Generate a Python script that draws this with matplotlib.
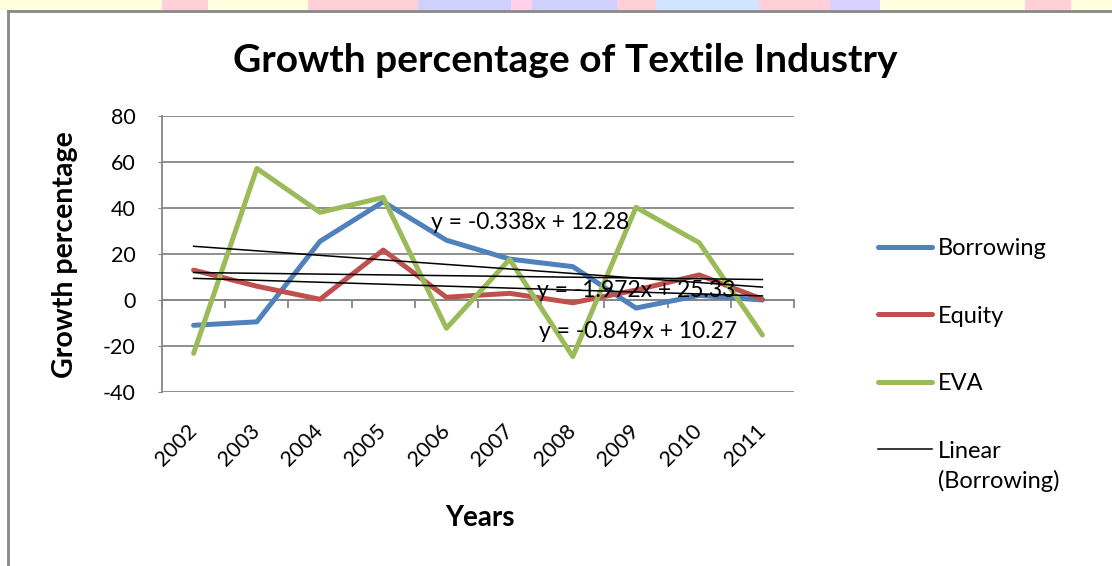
import numpy as np
import matplotlib
matplotlib.use('Agg')
import matplotlib.pyplot as plt
from matplotlib.patches import Rectangle
from matplotlib.lines import Line2D

plt.rcParams['font.family'] = ['Lato', 'DejaVu Sans']
plt.rcParams['axes.unicode_minus'] = False

years = ['2002', '2003', '2004', '2005', '2006', '2007', '2008', '2009', '2010', '2011']
borrowing = [-11, -9.5, 25.5, 42.7, 26, 17.8, 14.5, -3.5, 2, 0]
equity = [13, 6, 0.3, 21.7, 1.2, 2.9, -1.2, 4.3, 10.9, 0.3]
eva = [-23.2, 57.2, 38.1, 44.6, -12.3, 17.7, -24.6, 40.3, 24.9, -15.2]

# linear trend coefficients (slope, intercept), x = 1..n
trend_slopes = [-0.338, -0.849, -1.972]
trend_intercepts = [12.28, 10.27, 25.33]

BLUE = '#4F81BD'
RED = '#C0504D'
GREEN = '#9BBB59'
GRID = '#868686'

fig = plt.figure(figsize=(11.12, 5.66), dpi=100)
W, H = 1112, 566

# pastel strip along the top edge
strip = [(0, 162, '#FFFFE0'), (162, 208, '#FFD0D8'), (208, 308, '#FFFFE0'),
         (308, 418, '#FFD0D8'), (418, 511, '#D0D0FF'), (511, 532, '#FFD0E8'),
         (532, 617, '#D0D0FF'), (617, 656, '#FFD0D8'), (656, 759, '#D0E4FF'),
         (759, 830, '#FFD0D8'), (830, 880, '#D8D0FF'), (880, 1025, '#FFFFE0'),
         (1025, 1071, '#FFD0D8'), (1071, 1112, '#FFFFE0')]
for x0, x1, c in strip:
    fig.add_artist(Rectangle((x0 / W, 1 - 10 / H), (x1 - x0) / W, 10 / H,
                             transform=fig.transFigure, color=c, lw=0))
# chart frame
fig.add_artist(Line2D([8 / W, 1], [1 - 11 / H, 1 - 11 / H], transform=fig.transFigure,
                      color='#888888', lw=2))
fig.add_artist(Line2D([8 / W, 8 / W], [0, 1 - 11 / H], transform=fig.transFigure,
                      color='#888888', lw=2))

ax = fig.add_axes([162 / W, 1 - 392 / H, (794 - 162) / W, (392 - 116) / H])
x = np.arange(len(years))

ax.set_ylim(-40, 80)
ax.set_xlim(-0.5, len(years) - 0.5)
ax.set_yticks(range(-40, 81, 20))
ax.yaxis.grid(True, color=GRID, lw=1.3)
ax.set_axisbelow(True)
for s in ['top', 'right', 'bottom']:
    ax.spines[s].set_visible(False)
ax.spines['left'].set_color(GRID)
ax.spines['left'].set_linewidth(1.3)
ax.tick_params(axis='y', length=3, color=GRID, labelsize=15.5, pad=16)

ax.set_xticks(x)
ax.set_xticklabels(years, rotation=45, ha='right', rotation_mode='anchor', va='center')
ax.tick_params(axis='x', length=0, labelsize=15.5, pad=26)

# category axis crossing at zero, with tick marks between categories
sec = ax.secondary_xaxis(40 / 120)
sec.set_xticks(np.arange(len(years) + 1) - 0.5)
sec.set_xticklabels([])
sec.tick_params(axis='x', length=6, color=GRID, width=1.3, direction='out')
sec.spines['bottom'].set_color(GRID)
sec.spines['bottom'].set_linewidth(1.3)

lw = 3.6
ax.plot(x, borrowing, color=BLUE, lw=lw, solid_capstyle='round', label='Borrowing')
ax.plot(x, equity, color=RED, lw=lw, solid_capstyle='round', label='Equity')
ax.plot(x, eva, color=GREEN, lw=lw, solid_capstyle='round', label='EVA')

xi = x + 1
for k, (m, b) in enumerate(zip(trend_slopes, trend_intercepts)):
    ax.plot(x, m * xi + b, color='black', lw=1.1,
            label='Linear' if k == 0 else '_nolegend_')

eq_pos = [(5.32, 33.9), (7.03, -13.5), (7.0, 4.3)]
for (m, b), (px, py) in zip(zip(trend_slopes, trend_intercepts), eq_pos):
    ax.text(px, py, f'y = {m:.3f}x + {b:.2f}', ha='center', va='center', fontsize=16.5)

fig.text(565 / W, 1 - 60 / H, 'Growth percentage of Textile Industry',
         ha='center', va='center', fontsize=28, fontweight='bold')
fig.text(65 / W, 1 - 255 / H, 'Growth percentage', rotation=90,
         ha='center', va='center', fontsize=20.5, fontweight='bold')
fig.text(480 / W, 1 - 518 / H, 'Years', ha='center', va='center',
         fontsize=20, fontweight='bold')

leg = fig.legend(loc='upper left', bbox_to_anchor=(878 / W, 1 - 238 / H), frameon=False,
                 fontsize=17, handlelength=2.3, handletextpad=0.25, labelspacing=1.97,
                 borderpad=0, borderaxespad=0)
# second line of the trend-line entry, kept under "Linear"
fig.text(938 / W, 1 - 481 / H, '(Borrowing)', ha='left', va='center', fontsize=17)

fig.savefig('out.png', dpi=100)
